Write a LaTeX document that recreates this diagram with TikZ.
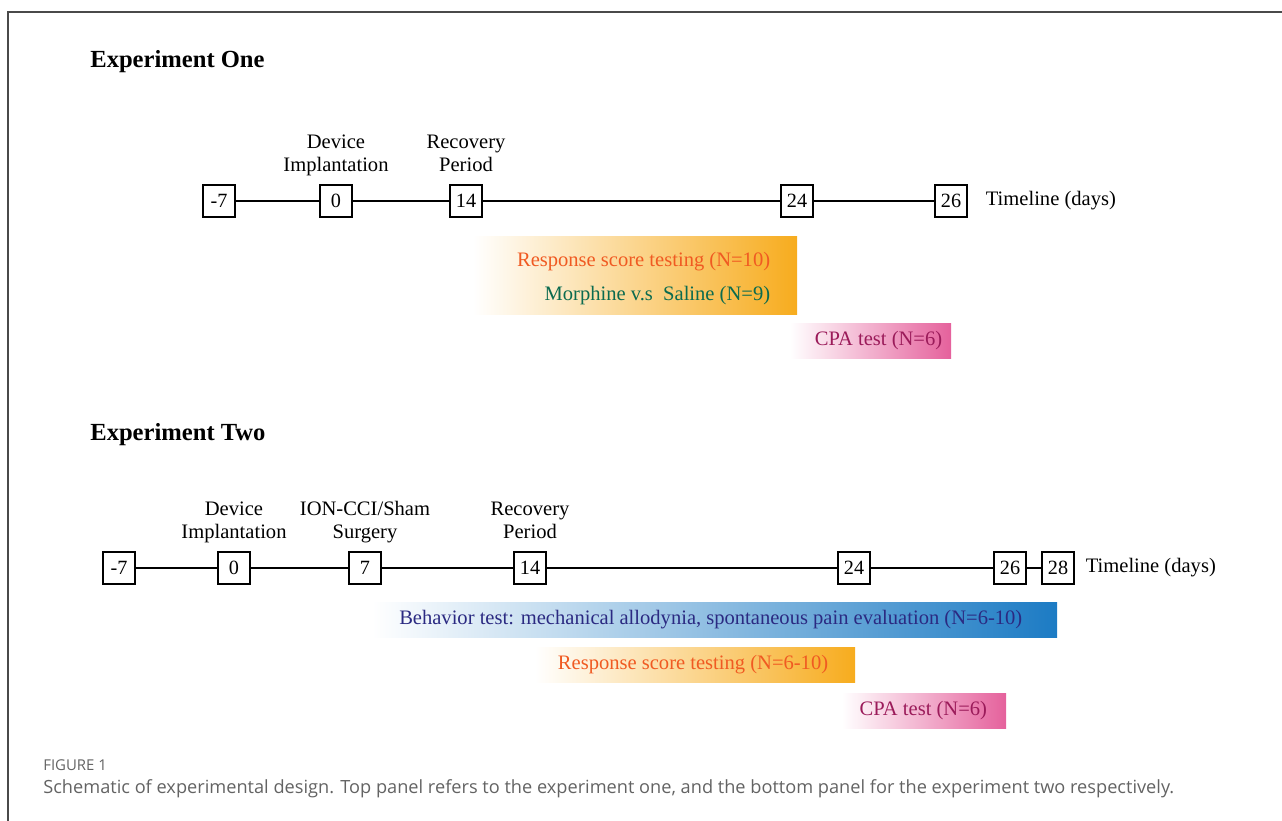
\documentclass[tikz,border=0pt]{standalone}
\usepackage{fontspec}
\setmainfont{Liberation Serif}
\newfontfamily\capfont{Open Sans}
\usetikzlibrary{calc,positioning,fit}

\definecolor{orng}{HTML}{F7AC1E}
\definecolor{pnk}{HTML}{E5619C}
\definecolor{blu}{HTML}{1C7BC4}
\definecolor{resptext}{HTML}{F05A22}
\definecolor{morphtext}{HTML}{0B6B4F}
\definecolor{cpatext}{HTML}{9B1B5A}
\definecolor{behavtext}{HTML}{2B2A82}
\definecolor{capgray}{HTML}{636363}
\definecolor{framegray}{HTML}{4A4A4A}

\begin{document}
\begin{tikzpicture}[x=0.02cm,y=-0.02cm]
          \tikzstyle{dnode} = [draw=black, line width=1.1pt, rectangle, minimum width=18.2pt, minimum height=18.6pt, inner sep=0pt, font=\fontsize{11.5}{13}\selectfont]
          \tikzstyle{lbl} = [inner sep=0pt, align=center, text depth=0pt, font=\fontsize{11.7}{13.3}\selectfont]
          \tikzstyle{title} = [inner sep=0pt, anchor=base west, font=\fontsize{14}{16}\selectfont\bfseries]
          \tikzstyle{tline} = [line width=0.9pt]
          \tikzstyle{band} = [rectangle, inner sep=0pt, left color=white]
          \tikzstyle{btext} = [inner sep=0pt, font=\fontsize{11.7}{13}\selectfont]

          \useasboundingbox (0,0) rectangle (1282,821);
          \draw[framegray, line width=0.8pt] (1282,12) -- (8,12) -- (8,821);

          % experiment one
          \node[title] (t1) at (90,68) {Experiment One};
          \node[dnode] (am7) at (219,201) {-7};
          \node[dnode] (a0) at (336,201) {0};
          \node[dnode] (a14) at (466,201) {14};
          \node[dnode] (a24) at (797,201) {24};
          \node[dnode] (a26) at (951,201) {26};
          \draw[tline] (am7) -- (a0) -- (a14) -- (a24) -- (a26);
          \node[lbl, above=6.5pt of a0] (la0) {Device\\Implantation};
          \node[lbl, above=6.5pt of a14] (la14) {Recovery\\Period};
          \node[btext, right=10pt of a26] (tla) {Timeline (days)};

          \node[band, right color=orng, fit={(473,236) (797,314)}] (ra) {};
          \node[btext, align=right, left=15.3pt of ra.east, yshift=-2pt] (rta) {\textcolor{resptext}{Response score testing (N=10)}\\[6.2pt]\textcolor{morphtext}{Morphine v.s\ \ Saline (N=9)}};
          \node[band, right color=pnk, fit={(790,323) (951,358)}] (ca) {};
          \node[btext, text=cpatext, left=5pt of ca.east] (cta) {CPA test (N=6)};

          % experiment two
          \node[title] (t2) at (90,440) {Experiment Two};
          \node[dnode] (bm7) at (119,568) {-7};
          \node[dnode] (b0) at (234,568) {0};
          \node[dnode] (b7) at (365,568) {7};
          \node[dnode] (b14) at (530,568) {14};
          \node[dnode] (b24) at (854,568) {24};
          \node[dnode] (b26) at (1010,568) {26};
          \node[dnode] (b28) at (1058,568) {28};
          \draw[tline] (bm7) -- (b0) -- (b7) -- (b14) -- (b24) -- (b26) -- (b28);
          \node[lbl, above=6.5pt of b0] (lb0) {Device\\Implantation};
          \node[lbl, above=6.5pt of b7] (lb7) {ION-CCI/Sham\\Surgery};
          \node[lbl, above=6.5pt of b14] (lb14) {Recovery\\Period};
          \node[btext, right=6pt of b28] (tlb) {Timeline (days)};

          \node[band, right color=blu, fit={(372,602) (1057,637)}] (bb) {};
          \node[btext, text=behavtext, left=19.8pt of bb.east] (btb) {Behavior test: mechanical allodynia, spontaneous pain evaluation (N=6-10)};
          \node[band, right color=orng, fit={(535,647) (855,682)}] (rb) {};
          \node[btext, text=resptext, left=15.3pt of rb.east] (rtb) {Response score testing (N=6-10)};
          \node[band, right color=pnk, fit={(842,693) (1006,728)}] (cb) {};
          \node[btext, text=cpatext, left=10.8pt of cb.east] (ctb) {CPA test (N=6)};

          % caption
          \node[anchor=base west, inner sep=0pt, text=capgray, font=\capfont\fontsize{8.5}{10}\selectfont] (fig) at (43,770) {FIGURE 1};
          \node[anchor=base west, inner sep=0pt, text=capgray, font=\capfont\fontsize{10.35}{12}\selectfont] (cap) at (43,793) {Schematic of experimental design. Top panel refers to the experiment one, and the bottom panel for the experiment two respectively.};
        \end{tikzpicture}
\end{document}
